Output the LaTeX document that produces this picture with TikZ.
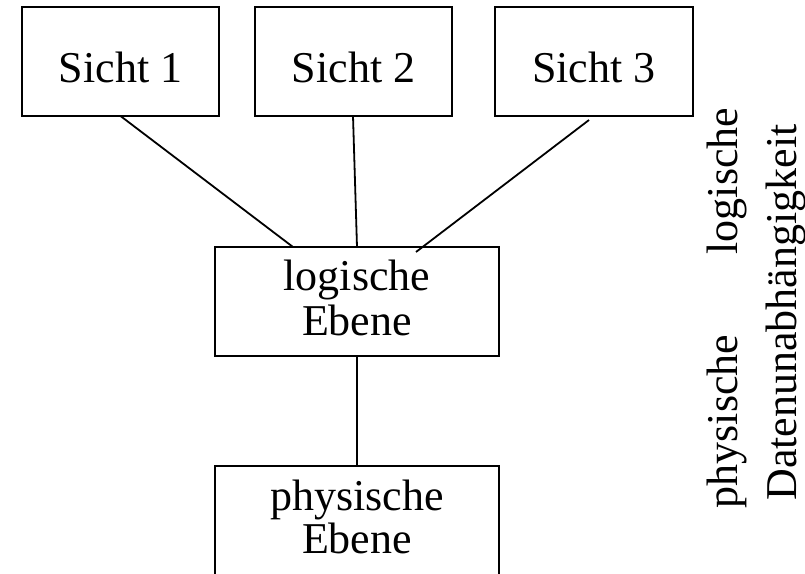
\documentclass[tikz,border=0pt]{standalone}
\usepackage{fontspec}
\setmainfont{Liberation Serif}
\usetikzlibrary{calc}
\begin{document}
\begin{tikzpicture}[x=1pt,y=-1pt,
  every node/.style={inner sep=0pt, outer sep=0pt},
  levelbox/.style={draw, line width=1.8pt, rectangle},
  viewbox/.style={levelbox, minimum width=197pt, minimum height=109pt},
  planebox/.style={levelbox, minimum width=284pt, minimum height=109pt},
  lbl/.style={anchor=base, font=\fontsize{44}{48}\selectfont},
  sidelbl/.style={lbl, rotate=90},
  link/.style={line width=1.8pt}]
  \useasboundingbox (0,0) rectangle (805,573);
  \clip (0,0) rectangle (805,573);

  % the three external views
  \node[viewbox] (s1) at (120.5,61.5) {};
  \node[viewbox] (s2) at (353.5,61.5) {};
  \node[viewbox, minimum width=198pt] (s3) at (594,61.5) {};
  \node[lbl] (s1t) at (120.5,82) {Sicht 1};
  \node[lbl] (s2t) at (353.5,82) {Sicht 2};
  \node[lbl] (s3t) at (594,82) {Sicht 3};

  % logical and physical level
  \node[planebox] (log) at (357,301.5) {};
  \node[lbl] (logt1) at (357,290.5) {logische};
  \node[lbl] (logt2) at (357,335) {Ebene};
  \node[planebox] (phy) at (357,520.5) {};
  \node[lbl] (phyt1) at (357,510) {physische};
  \node[lbl] (phyt2) at (357,553.5) {Ebene};

  % connectors
  \draw[link] (s1.south) -- ($(log.north)+(-64,0)$);
  \draw[link] ($(s2.south)+(-0.5,0)$) -- (log.north);
  \draw[link] ($(s3.south)+(-5,4)$) -- ($(log.north)+(59,5)$);
  \draw[link] (log.south) -- (phy.north);

  % vertical side labels
  \node[sidelbl] (sphy) at (737,421.5) {physische};
  \node[sidelbl] (slog) at (737,181) {logische};
  \node[sidelbl] (sdat) at (796,312.5) {Datenunabhängigkeit};
\end{tikzpicture}
\end{document}
